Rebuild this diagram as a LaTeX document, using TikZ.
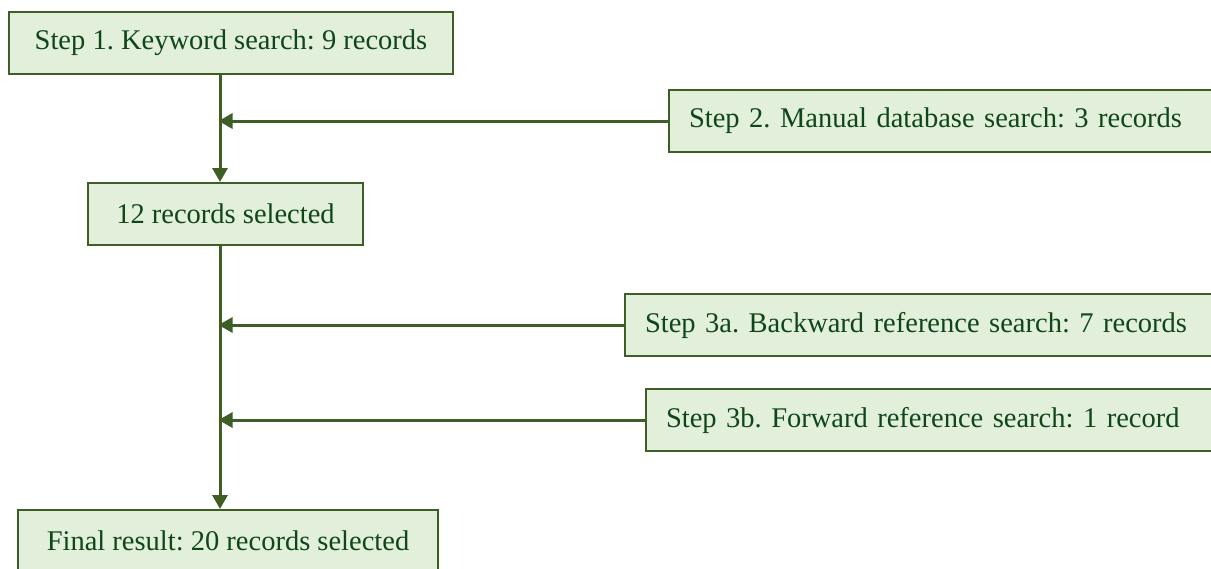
\documentclass[tikz,border=0pt]{standalone}
\usepackage{fontspec}
\setmainfont{Liberation Serif}
\usepackage{xcolor}
\definecolor{revfill}{HTML}{E2EFDA}
\definecolor{revedge}{HTML}{3D5E24}
\definecolor{revtext}{HTML}{0F461A}
\usetikzlibrary{arrows.meta}
\tikzset{
  revbox/.style={draw=revedge,line width=2pt,fill=revfill,anchor=north west,inner xsep=20pt,inner ysep=0pt,minimum height=62pt,align=left,text=revtext,font=\fontsize{28.5}{34}\selectfont\frenchspacing},
  revflow/.style={-{Triangle[length=14pt,width=15pt]},draw=revedge,line width=3pt},
}

\begin{document}
\begin{tikzpicture}[x=1pt,y=-1pt]
\clip (0,0) rectangle (1211,568);
\coordinate (spine) at (220,0);
\node[revbox,minimum width=444pt](kw) at (8,11){Step 1. Keyword search: 9 records};
\node[revbox,text width=532pt](manual) at (668,89){Step 2. Manual database search: 3 records};
\node[revbox,minimum width=275pt](sel) at (87,182){12 records selected};
\node[revbox,text width=576pt](back) at (624,293){Step 3a. Backward reference search: 7 records};
\node[revbox,text width=555pt](fwd) at (645,388){Step 3b. Forward reference search: 1 record};
\node[revbox,minimum width=420pt](final) at (17,509){Final result: 20 records selected};
\draw[revflow](kw.south -| spine)--(sel.north -| spine);
\draw[revflow](sel.south -| spine)--(final.north -| spine);
\draw[revflow,shorten >=-1.5pt](manual.west)--(manual.west -| spine);
\draw[revflow,shorten >=-1.5pt](back.west)--(back.west -| spine);
\draw[revflow,shorten >=-1.5pt](fwd.west)--(fwd.west -| spine);
\end{tikzpicture}
\end{document}
